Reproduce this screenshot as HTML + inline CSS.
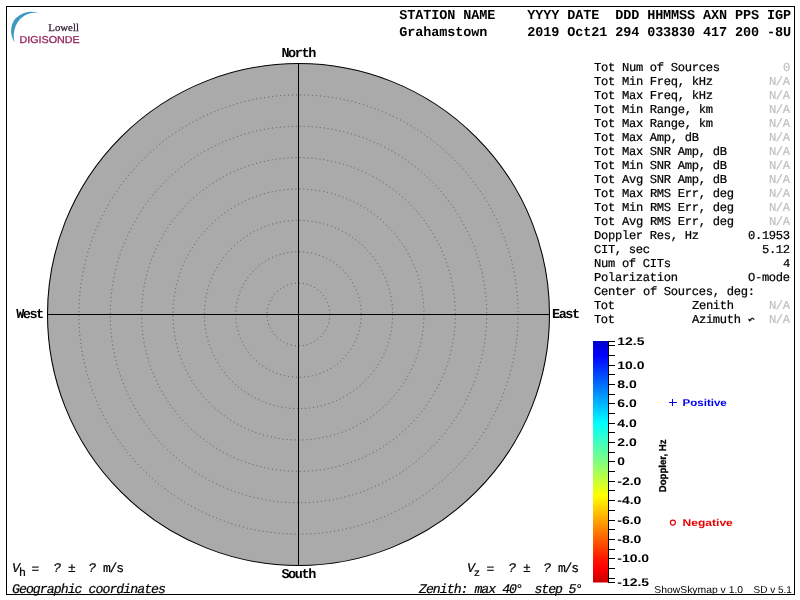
<!DOCTYPE html>
<html><head><meta charset="utf-8"><title>Skymap</title>
<style>
html,body{margin:0;padding:0;background:#fff;}
body{width:800px;height:600px;overflow:hidden;}
svg{display:block;will-change:transform;}
text{font-family:"Liberation Mono",monospace;text-rendering:geometricPrecision;}
.m{font-size:12.15px;fill:#000;stroke:#000;stroke-width:0.22px;}
.g{fill:#c2c2c2;stroke:#c2c2c2;}
.h{font-size:13.5px;font-weight:bold;}
.d{font-size:13.5px;font-weight:bold;}
.i{font-size:13.2px;font-style:italic;stroke:#000;stroke-width:0.2px;}
.u{font-size:13px;fill:#000;stroke:#000;stroke-width:0.2px;}
.s{font-family:"Liberation Sans",sans-serif;}
.sb{font-family:"Liberation Sans",sans-serif;font-weight:bold;font-size:11px;}
</style></head><body>
<svg width="800" height="600" viewBox="0 0 800 600">
<defs>
<linearGradient id="cb" x1="0" y1="0" x2="0" y2="1">
<stop offset="0" stop-color="#0000c8"/>
<stop offset="0.06" stop-color="#0000ff"/>
<stop offset="0.34" stop-color="#00ffff"/>
<stop offset="0.50" stop-color="#80ff80"/>
<stop offset="0.64" stop-color="#ffff00"/>
<stop offset="0.90" stop-color="#ff1800"/>
<stop offset="0.94" stop-color="#ff0000"/>
<stop offset="1" stop-color="#c80000"/>
</linearGradient>
</defs>
<rect x="0" y="0" width="800" height="600" fill="#fff"/>
<rect x="6.5" y="6.5" width="788" height="588" fill="none" stroke="#000" stroke-width="1" shape-rendering="crispEdges"/>

<g id="logo">
<path d="M39.3 13.5C38.8 13.3 37.2 12.6 36.0 12.3C34.8 12.0 33.3 11.8 32.0 11.7C30.7 11.6 29.3 11.8 28.0 12.0C26.7 12.2 25.3 12.5 24.0 13.0C22.7 13.5 21.3 14.2 20.0 15.0C18.7 15.8 17.1 16.9 16.0 18.0C14.9 19.1 14.0 20.4 13.3 21.7C12.6 23.0 12.0 24.7 11.7 26.0C11.3 27.3 11.3 28.0 11.2 29.3C11.1 30.6 11.1 32.4 11.3 34.0C11.6 35.6 12.2 37.3 12.7 38.7C13.2 40.1 14.2 41.7 14.5 42.3C14.4 41.2 13.7 37.9 13.7 36.0C13.7 34.1 13.9 32.5 14.3 30.7C14.7 28.9 15.2 27.1 16.0 25.3C16.8 23.5 18.2 21.4 19.3 20.0C20.4 18.6 21.6 17.9 22.7 17.0C23.8 16.1 24.7 15.3 26.0 14.7C27.3 14.1 29.1 13.5 30.7 13.2C32.2 12.9 33.9 12.8 35.3 12.8C36.7 12.9 38.6 13.4 39.3 13.5Z" fill="#3d98c0"/>
<text x="48.3" y="30.5" style="font-family:'Liberation Serif',serif;font-size:10.5px" fill="#2e1a30" stroke="#2e1a30" stroke-width="0.25" textLength="30.6" lengthAdjust="spacingAndGlyphs">Lowell</text>
<text class="s" x="19.5" y="42.6" style="font-size:10px" fill="#96235f" stroke="#96235f" stroke-width="0.3" textLength="60.2" lengthAdjust="spacingAndGlyphs">DIGISONDE</text>
</g>

<text class="h" x="399.2" y="19" textLength="392" lengthAdjust="spacing" xml:space="preserve">STATION NAME    YYYY DATE  DDD HHMMSS AXN PPS IGP</text>
<text class="h" x="399.2" y="35.5" textLength="392" lengthAdjust="spacing" xml:space="preserve">Grahamstown     2019 Oct21 294 033830 417 200 -8U</text>
<circle cx="298.5" cy="314.5" r="251" fill="#aaaaaa" stroke="#000" stroke-width="1.05"/>
<circle cx="298.5" cy="314.5" r="31.38" fill="none" stroke="#565656" stroke-width="1" stroke-dasharray="1 3"/>
<circle cx="298.5" cy="314.5" r="62.75" fill="none" stroke="#565656" stroke-width="1" stroke-dasharray="1 3"/>
<circle cx="298.5" cy="314.5" r="94.12" fill="none" stroke="#565656" stroke-width="1" stroke-dasharray="1 3"/>
<circle cx="298.5" cy="314.5" r="125.50" fill="none" stroke="#565656" stroke-width="1" stroke-dasharray="1 3"/>
<circle cx="298.5" cy="314.5" r="156.88" fill="none" stroke="#565656" stroke-width="1" stroke-dasharray="1 3"/>
<circle cx="298.5" cy="314.5" r="188.25" fill="none" stroke="#565656" stroke-width="1" stroke-dasharray="1 3"/>
<circle cx="298.5" cy="314.5" r="219.62" fill="none" stroke="#565656" stroke-width="1" stroke-dasharray="1 3"/>
<line x1="298.5" y1="63.5" x2="298.5" y2="565.5" stroke="#000" stroke-width="1" shape-rendering="crispEdges"/>
<line x1="47.5" y1="314.5" x2="549.5" y2="314.5" stroke="#000" stroke-width="1" shape-rendering="crispEdges"/>
<text class="d" x="281.4" y="57" textLength="35" lengthAdjust="spacing" xml:space="preserve">North</text>
<text class="d" x="281.4" y="578" textLength="35" lengthAdjust="spacing" xml:space="preserve">South</text>
<text class="d" x="16.2" y="318" textLength="28" lengthAdjust="spacing" xml:space="preserve">West</text>
<text class="d" x="552" y="318" textLength="28" lengthAdjust="spacing" xml:space="preserve">East</text>
<text class="m" x="594" y="71" textLength="126" lengthAdjust="spacing" xml:space="preserve">Tot Num of Sources</text>
<text class="m g" x="783" y="71" textLength="7" lengthAdjust="spacing" xml:space="preserve">0</text>
<text class="m" x="594" y="85" textLength="119" lengthAdjust="spacing" xml:space="preserve">Tot Min Freq, kHz</text>
<text class="m g" x="769" y="85" textLength="21" lengthAdjust="spacing" xml:space="preserve">N/A</text>
<text class="m" x="594" y="99" textLength="119" lengthAdjust="spacing" xml:space="preserve">Tot Max Freq, kHz</text>
<text class="m g" x="769" y="99" textLength="21" lengthAdjust="spacing" xml:space="preserve">N/A</text>
<text class="m" x="594" y="113" textLength="119" lengthAdjust="spacing" xml:space="preserve">Tot Min Range, km</text>
<text class="m g" x="769" y="113" textLength="21" lengthAdjust="spacing" xml:space="preserve">N/A</text>
<text class="m" x="594" y="127" textLength="119" lengthAdjust="spacing" xml:space="preserve">Tot Max Range, km</text>
<text class="m g" x="769" y="127" textLength="21" lengthAdjust="spacing" xml:space="preserve">N/A</text>
<text class="m" x="594" y="141" textLength="105" lengthAdjust="spacing" xml:space="preserve">Tot Max Amp, dB</text>
<text class="m g" x="769" y="141" textLength="21" lengthAdjust="spacing" xml:space="preserve">N/A</text>
<text class="m" x="594" y="155" textLength="133" lengthAdjust="spacing" xml:space="preserve">Tot Max SNR Amp, dB</text>
<text class="m g" x="769" y="155" textLength="21" lengthAdjust="spacing" xml:space="preserve">N/A</text>
<text class="m" x="594" y="169" textLength="133" lengthAdjust="spacing" xml:space="preserve">Tot Min SNR Amp, dB</text>
<text class="m g" x="769" y="169" textLength="21" lengthAdjust="spacing" xml:space="preserve">N/A</text>
<text class="m" x="594" y="183" textLength="133" lengthAdjust="spacing" xml:space="preserve">Tot Avg SNR Amp, dB</text>
<text class="m g" x="769" y="183" textLength="21" lengthAdjust="spacing" xml:space="preserve">N/A</text>
<text class="m" x="594" y="197" textLength="140" lengthAdjust="spacing" xml:space="preserve">Tot Max RMS Err, deg</text>
<text class="m g" x="769" y="197" textLength="21" lengthAdjust="spacing" xml:space="preserve">N/A</text>
<text class="m" x="594" y="211" textLength="140" lengthAdjust="spacing" xml:space="preserve">Tot Min RMS Err, deg</text>
<text class="m g" x="769" y="211" textLength="21" lengthAdjust="spacing" xml:space="preserve">N/A</text>
<text class="m" x="594" y="225" textLength="140" lengthAdjust="spacing" xml:space="preserve">Tot Avg RMS Err, deg</text>
<text class="m g" x="769" y="225" textLength="21" lengthAdjust="spacing" xml:space="preserve">N/A</text>
<text class="m" x="594" y="239" textLength="105" lengthAdjust="spacing" xml:space="preserve">Doppler Res, Hz</text>
<text class="m" x="748" y="239" textLength="42" lengthAdjust="spacing" xml:space="preserve">0.1953</text>
<text class="m" x="594" y="253" textLength="56" lengthAdjust="spacing" xml:space="preserve">CIT, sec</text>
<text class="m" x="762" y="253" textLength="28" lengthAdjust="spacing" xml:space="preserve">5.12</text>
<text class="m" x="594" y="267" textLength="77" lengthAdjust="spacing" xml:space="preserve">Num of CITs</text>
<text class="m" x="783" y="267" textLength="7" lengthAdjust="spacing" xml:space="preserve">4</text>
<text class="m" x="594" y="281" textLength="84" lengthAdjust="spacing" xml:space="preserve">Polarization</text>
<text class="m" x="748" y="281" textLength="42" lengthAdjust="spacing" xml:space="preserve">O-mode</text>
<text class="m" x="594" y="295" textLength="161" lengthAdjust="spacing" xml:space="preserve">Center of Sources, deg:</text>
<text class="m" x="594" y="309" textLength="21" lengthAdjust="spacing" xml:space="preserve">Tot</text>
<text class="m g" x="769" y="309" textLength="21" lengthAdjust="spacing" xml:space="preserve">N/A</text>
<text class="m" x="594" y="323" textLength="21" lengthAdjust="spacing" xml:space="preserve">Tot</text>
<text class="m g" x="769" y="323" textLength="21" lengthAdjust="spacing" xml:space="preserve">N/A</text>
<text class="m" x="692" y="309" textLength="42" lengthAdjust="spacing" xml:space="preserve">Zenith</text>
<text class="m" x="692" y="323" textLength="49" lengthAdjust="spacing" xml:space="preserve">Azimuth</text>
<path d="M750.2 320.3 Q751.6 316.6 754.3 319.6" fill="none" stroke="#222" stroke-width="1.3"/><path d="M748 318.6 L752 319.9 L749.2 321.8 Z" fill="#222"/>
<rect x="593" y="341" width="15.5" height="241.5" fill="url(#cb)"/>
<line x1="608.5" y1="341" x2="608.5" y2="583" stroke="#000" stroke-width="1" shape-rendering="crispEdges"/>
<line x1="608" y1="341.5" x2="615" y2="341.5" stroke="#000" stroke-width="1" shape-rendering="crispEdges"/>
<line x1="608" y1="345.5" x2="615" y2="345.5" stroke="#000" stroke-width="1" shape-rendering="crispEdges"/>
<line x1="608" y1="355.5" x2="615" y2="355.5" stroke="#000" stroke-width="1" shape-rendering="crispEdges"/>
<line x1="608" y1="365.5" x2="615" y2="365.5" stroke="#000" stroke-width="1" shape-rendering="crispEdges"/>
<line x1="608" y1="374.5" x2="615" y2="374.5" stroke="#000" stroke-width="1" shape-rendering="crispEdges"/>
<line x1="608" y1="384.5" x2="615" y2="384.5" stroke="#000" stroke-width="1" shape-rendering="crispEdges"/>
<line x1="608" y1="394.5" x2="615" y2="394.5" stroke="#000" stroke-width="1" shape-rendering="crispEdges"/>
<line x1="608" y1="403.5" x2="615" y2="403.5" stroke="#000" stroke-width="1" shape-rendering="crispEdges"/>
<line x1="608" y1="413.5" x2="615" y2="413.5" stroke="#000" stroke-width="1" shape-rendering="crispEdges"/>
<line x1="608" y1="423.5" x2="615" y2="423.5" stroke="#000" stroke-width="1" shape-rendering="crispEdges"/>
<line x1="608" y1="432.5" x2="615" y2="432.5" stroke="#000" stroke-width="1" shape-rendering="crispEdges"/>
<line x1="608" y1="442.5" x2="615" y2="442.5" stroke="#000" stroke-width="1" shape-rendering="crispEdges"/>
<line x1="608" y1="452.5" x2="615" y2="452.5" stroke="#000" stroke-width="1" shape-rendering="crispEdges"/>
<line x1="608" y1="461.5" x2="615" y2="461.5" stroke="#000" stroke-width="1" shape-rendering="crispEdges"/>
<line x1="608" y1="471.5" x2="615" y2="471.5" stroke="#000" stroke-width="1" shape-rendering="crispEdges"/>
<line x1="608" y1="481.5" x2="615" y2="481.5" stroke="#000" stroke-width="1" shape-rendering="crispEdges"/>
<line x1="608" y1="490.5" x2="615" y2="490.5" stroke="#000" stroke-width="1" shape-rendering="crispEdges"/>
<line x1="608" y1="500.5" x2="615" y2="500.5" stroke="#000" stroke-width="1" shape-rendering="crispEdges"/>
<line x1="608" y1="510.5" x2="615" y2="510.5" stroke="#000" stroke-width="1" shape-rendering="crispEdges"/>
<line x1="608" y1="520.5" x2="615" y2="520.5" stroke="#000" stroke-width="1" shape-rendering="crispEdges"/>
<line x1="608" y1="529.5" x2="615" y2="529.5" stroke="#000" stroke-width="1" shape-rendering="crispEdges"/>
<line x1="608" y1="539.5" x2="615" y2="539.5" stroke="#000" stroke-width="1" shape-rendering="crispEdges"/>
<line x1="608" y1="549.5" x2="615" y2="549.5" stroke="#000" stroke-width="1" shape-rendering="crispEdges"/>
<line x1="608" y1="558.5" x2="615" y2="558.5" stroke="#000" stroke-width="1" shape-rendering="crispEdges"/>
<line x1="608" y1="568.5" x2="615" y2="568.5" stroke="#000" stroke-width="1" shape-rendering="crispEdges"/>
<line x1="608" y1="578.5" x2="615" y2="578.5" stroke="#000" stroke-width="1" shape-rendering="crispEdges"/>
<line x1="608" y1="582.5" x2="615" y2="582.5" stroke="#000" stroke-width="1" shape-rendering="crispEdges"/>
<text class="sb" x="617.3" y="344.9" textLength="27.1" lengthAdjust="spacingAndGlyphs">12.5</text>
<text class="sb" x="617.3" y="368.9" textLength="27.1" lengthAdjust="spacingAndGlyphs">10.0</text>
<text class="sb" x="617.3" y="387.9" textLength="19.5" lengthAdjust="spacingAndGlyphs">8.0</text>
<text class="sb" x="617.3" y="406.9" textLength="19.5" lengthAdjust="spacingAndGlyphs">6.0</text>
<text class="sb" x="617.3" y="426.9" textLength="19.5" lengthAdjust="spacingAndGlyphs">4.0</text>
<text class="sb" x="617.3" y="445.9" textLength="19.5" lengthAdjust="spacingAndGlyphs">2.0</text>
<text class="sb" x="617.3" y="464.9" textLength="7.7" lengthAdjust="spacingAndGlyphs">0</text>
<text class="sb" x="617.3" y="484.9" textLength="24.1" lengthAdjust="spacingAndGlyphs">-2.0</text>
<text class="sb" x="617.3" y="503.9" textLength="24.1" lengthAdjust="spacingAndGlyphs">-4.0</text>
<text class="sb" x="617.3" y="523.9" textLength="24.1" lengthAdjust="spacingAndGlyphs">-6.0</text>
<text class="sb" x="617.3" y="542.9" textLength="24.1" lengthAdjust="spacingAndGlyphs">-8.0</text>
<text class="sb" x="617.3" y="561.9" textLength="31.8" lengthAdjust="spacingAndGlyphs">-10.0</text>
<text class="sb" x="617.3" y="585.9" textLength="31.8" lengthAdjust="spacingAndGlyphs">-12.5</text>
<text class="sb" font-size="10" style="font-size:10px" transform="translate(665.5,492.2) rotate(-90)" stroke="#000" stroke-width="0.3" textLength="52.8" lengthAdjust="spacingAndGlyphs">Doppler, Hz</text>
<path d="M669 402.5 H677 M672.5 399 V406" stroke="#0000f0" stroke-width="1" fill="none" shape-rendering="crispEdges"/>
<text class="sb" style="font-size:10px" x="682.6" y="405.8" fill="#0000f0" textLength="44.2" lengthAdjust="spacingAndGlyphs">Positive</text>
<circle cx="672.9" cy="522.6" r="2.5" fill="none" stroke="#e60000" stroke-width="1.2"/>
<text class="sb" style="font-size:10px" x="682.6" y="525.8" fill="#e60000" textLength="50.2" lengthAdjust="spacingAndGlyphs">Negative</text>
<text class="i" x="12" y="572" textLength="7" lengthAdjust="spacing" xml:space="preserve">V</text>
<text class="m" x="19" y="575.6" style="font-size:11.6px">h</text>
<text class="u" x="31.6" y="572.7" textLength="7" lengthAdjust="spacing" xml:space="preserve">=</text>
<text class="i" x="53.2" y="572" textLength="7" lengthAdjust="spacing" xml:space="preserve">?</text>
<text class="u" x="68" y="572" textLength="7" lengthAdjust="spacing" xml:space="preserve">±</text>
<text class="i" x="88.2" y="572" textLength="7" lengthAdjust="spacing" xml:space="preserve">?</text>
<text class="u" x="103" y="572" textLength="21" lengthAdjust="spacing" xml:space="preserve">m/s</text>
<text class="i" x="12" y="593" textLength="154" lengthAdjust="spacing" xml:space="preserve">Geographic coordinates</text>
<text class="i" x="467" y="572" textLength="7" lengthAdjust="spacing" xml:space="preserve">V</text>
<text class="m" x="473.8" y="575.8" style="font-size:10.5px">z</text>
<text class="u" x="486.6" y="572.7" textLength="7" lengthAdjust="spacing" xml:space="preserve">=</text>
<text class="i" x="508.2" y="572" textLength="7" lengthAdjust="spacing" xml:space="preserve">?</text>
<text class="u" x="523" y="572" textLength="7" lengthAdjust="spacing" xml:space="preserve">±</text>
<text class="i" x="543.2" y="572" textLength="7" lengthAdjust="spacing" xml:space="preserve">?</text>
<text class="u" x="558" y="572" textLength="21" lengthAdjust="spacing" xml:space="preserve">m/s</text>
<text class="i" x="419" y="593" textLength="98" lengthAdjust="spacing" xml:space="preserve">Zenith: max 40</text>
<text class="i" x="515.6" y="593">°</text>
<text class="i" x="534.5" y="593" textLength="42" lengthAdjust="spacing" xml:space="preserve">step 5</text>
<text class="i" x="575.2" y="593">°</text>
<text class="s" x="654.3" y="593" style="font-size:10px" textLength="88.8" lengthAdjust="spacingAndGlyphs">ShowSkymap v 1.0</text>
<text class="s" x="753.6" y="593" style="font-size:10px" textLength="38.2" lengthAdjust="spacingAndGlyphs">SD v 5.1</text>
</svg></body></html>
